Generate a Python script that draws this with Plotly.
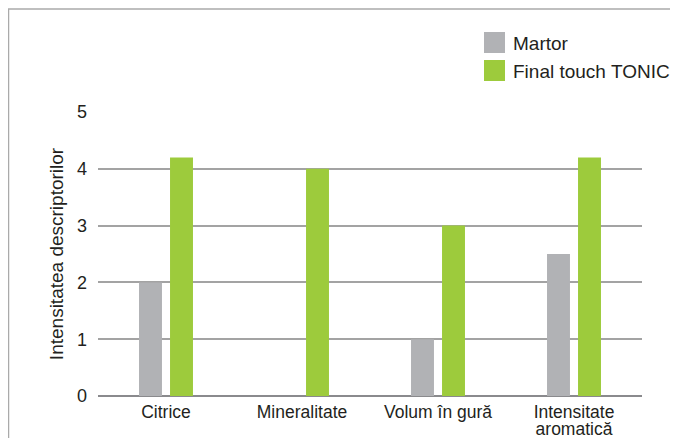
import plotly.graph_objects as go

categories = ["Citrice", "Mineralitate", "Volum în gură", "Intensitate<br>aromatică"]
martor = [2.0, 0.0, 1.0, 2.5]
final_touch = [4.2, 4.0, 3.0, 4.2]
series_names = ["Martor", "Final touch TONIC"]
y_ticks = [0, 1, 2, 3, 4, 5]
y_title = "Intensitatea descriptorilor"

GRAY = "#b1b2b5"
GREEN = "#9dcb3c"
TEXT = "#231f20"
FONT = "Liberation Sans, Arial, sans-serif"

# page body adds an 8px offset; figure coordinates below are screen - 8
OFF = 8
W, H = 662, 430
L, R, T, B = 90, 28, 104, 42
PW, PH = W - L - R, H - T - B


def px(sx):
    return (sx - OFF - L) / PW


def py(sy):
    return (H - B - (sy - OFF)) / PH


# tick labels: glyphs at 17.5px but line spacing based on a smaller base size
tick_text = ["<br>".join(f'<span style="font-size:17.5px">{part}</span>' for part in c.split("<br>"))
             for c in categories]

fig = go.Figure()
fig.add_trace(go.Bar(x=categories, y=martor, name=series_names[0],
                     marker=dict(color=GRAY, line=dict(width=0)), showlegend=False))
fig.add_trace(go.Bar(x=categories, y=final_touch, name=series_names[1],
                     marker=dict(color=GREEN, line=dict(width=0)), showlegend=False))

shapes = [
    dict(type="line", xref="paper", yref="paper", x0=px(8.5), x1=px(8.5), y0=py(440), y1=py(9),
         line=dict(color="#aaaaaa", width=1.5)),
    dict(type="line", xref="paper", yref="paper", x0=px(8), x1=px(670), y0=py(9), y1=py(9),
         line=dict(color="#aaaaaa", width=1.5)),
]
annotations = []
legend_colors = [GRAY, GREEN]
legend_tops = [32, 60]
for name, col, top in zip(series_names, legend_colors, legend_tops):
    shapes.append(dict(type="rect", xref="paper", yref="paper",
                       x0=px(484), x1=px(505), y0=py(top + 21), y1=py(top),
                       fillcolor=col, line=dict(width=0)))
    annotations.append(dict(text=name, xref="paper", yref="paper", x=px(511), y=py(top + 11),
                            xanchor="left", yanchor="middle", showarrow=False,
                            font=dict(size=19, color=TEXT, family=FONT)))

fig.update_layout(
    width=W, height=H,
    margin=dict(l=L, r=R, t=T, b=B, pad=0, autoexpand=False),
    paper_bgcolor="white", plot_bgcolor="white",
    barmode="group", bargap=0.544, bargroupgap=0.26,
    font=dict(family=FONT, color=TEXT, size=18),
    showlegend=False,
    shapes=shapes,
    annotations=annotations,
    xaxis=dict(showgrid=False, showline=False, zeroline=False, automargin=False,
               tickmode="array", tickvals=categories, ticktext=tick_text,
               tickfont=dict(size=13, color=TEXT), ticks="", ticklabelstandoff=8),
    yaxis=dict(range=[0, 5], tickvals=y_ticks, showgrid=True, gridcolor="#a3a3a3", gridwidth=1.5,
               zeroline=True, zerolinecolor="#8a8a8d", zerolinewidth=2, automargin=False,
               showline=False, ticks="", ticklabelstandoff=10,
               tickfont=dict(size=18, color=TEXT),
               title=dict(text=y_title, font=dict(size=19, color=TEXT), standoff=8)),
)

fig.write_html("out.html", config=dict(displayModeBar=False))
